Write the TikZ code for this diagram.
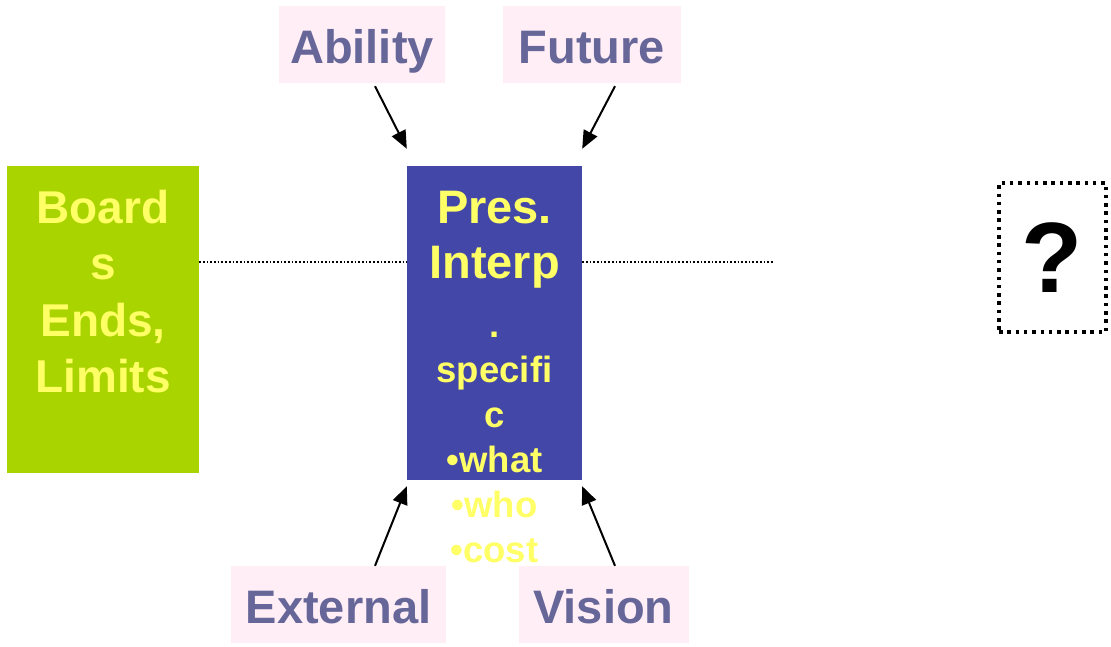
\documentclass[tikz,border=0pt]{standalone}
\usepackage{fontspec}
\setmainfont{Liberation Sans}
\usetikzlibrary{positioning,arrows.meta}
\definecolor{boardGreen}{HTML}{AAD400}
\definecolor{presBlue}{HTML}{4347A8}
\definecolor{textYellow}{HTML}{FFFF66}
\definecolor{factorInk}{HTML}{666699}
\definecolor{factorPink}{HTML}{FFEEF6}
\begin{document}
\begin{tikzpicture}[
		x=1pt, y=-1pt,
		% style for the four outer factors
		factor/.style={fill=factorPink, text=factorInk, inner sep=0pt,
			minimum height=77pt, text height=38pt, text depth=0pt,
			font=\bfseries\fontsize{47}{56}\selectfont},
		% coloured blocks
		block/.style={inner sep=0pt, anchor=center},
		% yellow writing on the blocks (placed by the baseline of the last line)
		blocktext/.style={text=textYellow, align=center, inner sep=0pt, anchor=base},
		% arrows into the centre block
		feed/.style={-{Triangle[length=18pt,width=15pt]}, black, line width=2pt},
		% dotted link through the blocks
		link/.style={black, line width=1.7pt, dash pattern=on 1.7pt off 2pt}
	]
	\useasboundingbox (0,0) rectangle (1111,646);
	
	% --- BLOCKS ---
	\node[block, fill=boardGreen, minimum width=192pt, minimum height=307pt] (board) at (103,319.5) {};
	\node[block, fill=presBlue, minimum width=175pt, minimum height=314pt] (pres) at (494.5,323) {};
	\node[block, draw, line width=3.5pt, dash pattern=on 3.5pt off 4.8pt,
		minimum width=107pt, minimum height=149pt,
		font=\bfseries\fontsize{100}{100}\selectfont] (unknown) at (1052.5,257.5) {?};
	
	% --- TEXT ON THE BLOCKS ---
	\node[blocktext, font=\bfseries\fontsize{46}{56.5}\selectfont] (boardText) at (103,392.5) {Board\\s\\Ends,\\Limits};
	\node[blocktext, font=\bfseries\fontsize{47}{55}\selectfont] (presHead) at (494.5,278) {Pres.\\Interp};
	\node[blocktext, font=\bfseries\fontsize{36.5}{45}\selectfont] (presList) at (494.5,562) {.\\specifi\\c\\•what\\•who\\•cost};
	
	% --- FACTORS ---
	\node[factor, minimum width=166pt] (ability) at (362,44.5) {Ability};
	\node[factor, minimum width=178pt] (future) at (592,44.5) {Future};
	\node[factor, minimum width=215pt] (external) at (338.5,604.5) {External};
	\node[factor, minimum width=170pt] (vision) at (603.5,604.5) {Vision};
	
	% --- ARROWS ---
	\draw[feed] ([shift={(13pt,-3pt)}]ability.south) -- ([yshift=17pt]pres.north west);
	\draw[feed] ([shift={(23pt,-3pt)}]future.south) -- ([yshift=17pt]pres.north east);
	\draw[feed] ([xshift=36.5pt]external.north) -- ([yshift=-6pt]pres.south west);
	\draw[feed] ([xshift=11.5pt]vision.north) -- ([yshift=-6pt]pres.south east);
	
	% --- DOTTED LINK ---
	\coordinate (level) at (0,262);
	\coordinate (linkEnd) at (773,262);
	\draw[link] (board.east |- level) -- (pres.west |- level);
	\draw[link] (pres.east |- level) -- (linkEnd);
\end{tikzpicture}
\end{document}
